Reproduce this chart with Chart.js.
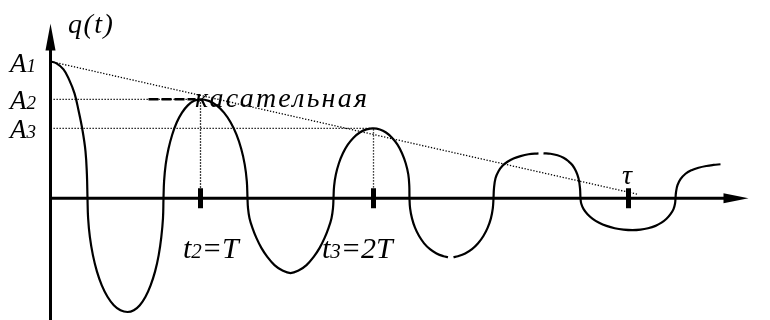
<!DOCTYPE html>
<html>
<head>
<meta charset="utf-8">
<script src="https://cdn.jsdelivr.net/npm/chart.js@4.4.0/dist/chart.umd.min.js"></script>
<style>
  html, body { margin: 0; padding: 0; background: #fff; }
  canvas { display: block; }
</style>
</head>
<body>
<canvas id="qChart" width="770" height="320"></canvas>
<script>
// q(t), read off the picture: t measured from the q axis, q up from the t axis
// null = small break in the drawn curve
const curveT = [0, 6, 13, 18.5, 24, 28, 32, 35, 36.4, 37,
    37.6, 39.4, 42.4, 46.4, 51.3, 57, 63.3, 70, 77, 83.3, 89.3, 95, 100.1, 104.6, 108.2, 110.8, 112.5, 113,
    113.6, 115.2, 118, 121.7, 126.2, 131.5, 137.3, 143.6, 150, 158.2, 166.1, 173.5, 180.2, 186, 190.7, 194.2, 196.3, 197,
    197.5, 199, 202, 206, 211, 217, 224, 232, 240, 248, 256, 263, 269, 274, 278, 281, 282.5, 283,
    283.6, 285.4, 288.4, 292.4, 297.3, 303, 309.3, 316, 323, 329.4, 335.5, 341.5, 347, 351.5, 355.2, 357.8, 358.8, 359,
    359.6, 361.5, 364.5, 368.6, 373.6, 379.5, 386, 392.9, 397.5, null,
    403, 407.5, 414.7, 421.5, 427.6, 432.9, 437.2, 440.4, 442.3, 443,
    443.5, 445, 448, 452, 457, 463, 470, 478, 488, null,
    493, 500, 507, 513, 518, 522, 525.5, 528, 529.5, 530,
    530.8, 533.1, 537, 542.2, 548.6, 556, 564.2, 573, 582, 590, 597.5, 605, 611, 616, 620, 623, 624.5, 625,
    625.5, 627, 630, 635, 641, 648, 656, 663, 670];
const curveQ = [137, 135, 129, 119, 105, 88, 68, 47, 24, 0,
    -19.8, -39, -57, -73.3, -87.3, -98.7, -107.2, -112.3, -114, -112.3, -107.2, -98.7, -87.3, -73.3, -57, -39, -19.8, 0,
    17.2, 33.9, 49.5, 63.6, 75.8, 85.7, 93, 97.5, 99, 97.5, 93, 85.7, 75.8, 63.6, 49.5, 33.9, 17.2, 0,
    -10, -20, -30, -40, -50, -59, -67, -72.5, -75, -72.5, -67, -59, -50, -40, -30, -20, -10, 0,
    12.2, 23.9, 35, 45, 53.6, 60.6, 65.8, 68.9, 70, 68.9, 65.8, 60.6, 53.6, 45, 35, 23.9, 12.2, 0,
    -10.2, -20.2, -29.5, -37.9, -45.2, -51.1, -55.4, -58.1, -59, null,
    -59, -58.1, -55.4, -51.1, -45.2, -37.9, -29.5, -20.2, -10.2, 0,
    10, 20, 27, 32.5, 36.5, 39.8, 42.2, 44, 45, null,
    45, 44.5, 43, 40.5, 37, 33, 27, 20, 10, 0,
    -5.6, -10.9, -16, -20.6, -24.5, -27.7, -30.1, -31.5, -32, -31.5, -30.1, -27.7, -24.5, -20.6, -16, -10.9, -5.6, 0,
    6, 13, 19, 24.5, 28, 30.5, 32.3, 33.3, 34];

const ampLevels = [137, 99, 70];        // A1, A2, A3
const ampLabels = ['1', '2', '3'];
const peakT = [150, 323];               // t2 = T, t3 = 2T
const tauT = 578;                       // tau
const tangentT = [0, 587];
const tangentQ = [137, 4];
const legendDashT = [98, 145];

const curvePoints = curveT.map((t, i) => ({ x: t, y: curveQ[i] }));

const dotted = { borderColor: '#000', borderWidth: 1.3, borderDash: [1.3, 1.7], pointRadius: 0, fill: false, tension: 0 };

const axesAndLabels = {
    id: 'axesAndLabels',
    beforeDatasetsDraw(chart) {
        const { ctx, scales: { x, y } } = chart;
        const x0 = x.getPixelForValue(0);
        const y0 = y.getPixelForValue(0);
        ctx.save();
        ctx.strokeStyle = '#000';
        ctx.fillStyle = '#000';
        ctx.lineWidth = 3;
        ctx.beginPath();
        ctx.moveTo(x0, chart.height);
        ctx.lineTo(x0, y.top + 20);
        ctx.moveTo(x0, y0);
        ctx.lineTo(x.right - 20, y0);
        ctx.stroke();
        // arrow heads
        ctx.beginPath();
        ctx.moveTo(x0, y.top);
        ctx.lineTo(x0 - 5, y.top + 27);
        ctx.lineTo(x0 + 5, y.top + 27);
        ctx.closePath();
        ctx.fill();
        ctx.beginPath();
        ctx.moveTo(x.right - 2, y0);
        ctx.lineTo(x.right - 27, y0 - 5);
        ctx.lineTo(x.right - 27, y0 + 5);
        ctx.closePath();
        ctx.fill();
        ctx.restore();
    },
    afterDatasetsDraw(chart) {
        const { ctx, scales: { x, y } } = chart;
        const big = 'italic 27px "Liberation Serif"';
        const sub = 'italic 19px "Liberation Serif"';
        ctx.save();
        ctx.fillStyle = '#000';
        ctx.textBaseline = 'alphabetic';

        function parts(list, px, py, spacing) {
            let cx = px;
            ctx.letterSpacing = (spacing || 0) + 'px';
            list.forEach(([txt, font]) => {
                ctx.font = font;
                ctx.fillText(txt, cx, py);
                cx += ctx.measureText(txt).width;
            });
            ctx.letterSpacing = '0px';
        }

        parts([['q(t)', 'italic 28px "Liberation Serif"']], 68, 33, 1.5);
        ampLevels.forEach((a, i) => {
            parts([['A', big], [ampLabels[i], sub]], 10, Math.round(y.getPixelForValue(a)) + [11, 10, 10][i]);
        });
        parts([['касательная', 'italic 28px "Liberation Serif"']], 195, 107, 2.2);

        const tBig = 'italic 30px "Liberation Serif"';
        const tSub = 'italic 21px "Liberation Serif"';
        parts([['t', tBig], ['2', tSub], ['=T', tBig]], 183, 258);
        parts([['t', tBig], ['3', tSub], ['=2T', tBig]], 322, 258);
        parts([['τ', 'italic 28px "Liberation Serif"']], Math.round(x.getPixelForValue(tauT)) - 7, 184);
        ctx.restore();
    }
};

new Chart(document.getElementById('qChart').getContext('2d'), {
    type: 'line',
    data: {
        datasets: [
            {
                data: curvePoints,
                borderColor: '#000',
                borderWidth: 2.2,
                pointRadius: 0,
                tension: 0.4,
                spanGaps: false,
                fill: false
            },
            Object.assign({ data: tangentT.map((t, i) => ({ x: t, y: tangentQ[i] })) }, dotted),
            Object.assign({ data: [{ x: 0, y: ampLevels[1] }, { x: peakT[0], y: ampLevels[1] }, { x: peakT[0], y: 0 }] }, dotted),
            Object.assign({ data: [{ x: 0, y: ampLevels[2] }, { x: peakT[1], y: ampLevels[2] }, { x: peakT[1], y: 0 }] }, dotted),
            {
                data: legendDashT.map(t => ({ x: t, y: ampLevels[1] })),
                borderColor: '#000',
                borderWidth: 2.5,
                borderDash: [10, 3],
                pointRadius: 0,
                tension: 0
            },
            {
                data: [...peakT, tauT].map(t => ({ x: t, y: 0 })),
                showLine: false,
                pointStyle: 'line',
                rotation: 90,
                pointRadius: 10,
                pointBorderWidth: 5,
                pointBorderColor: '#000'
            }
        ]
    },
    options: {
        responsive: false,
        animation: false,
        layout: { autoPadding: false, padding: { left: 50.5, right: 19.5, top: 23.5, bottom: -0.5 } },
        scales: {
            x: { type: 'linear', min: 0, max: 700, display: false },
            y: { type: 'linear', min: -122, max: 175, display: false }
        },
        plugins: {
            legend: { display: false },
            tooltip: { enabled: false }
        }
    },
    plugins: [axesAndLabels]
});
</script>
</body>
</html>
